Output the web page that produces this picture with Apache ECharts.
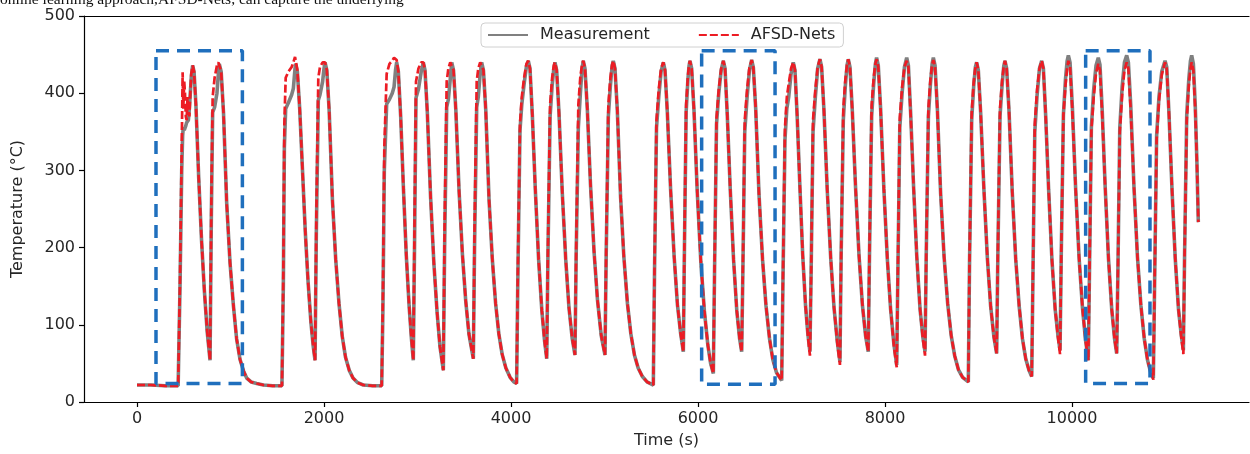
<!DOCTYPE html>
<html>
<head>
<meta charset="utf-8">
<script src="https://cdn.jsdelivr.net/npm/echarts@6/dist/echarts.min.js"></script>
<style>
html,body{margin:0;padding:0;background:#ffffff;}
#chart{width:1250px;height:454px;}
</style>
</head>
<body>
<div id="chart"></div>
<script>
// ---- data ----
const seriesNames = ['Measurement', 'AFSD-Nets'];
const xTicks = [0, 2000, 4000, 6000, 8000, 10000];
const captionText = 'online learning approach,AFSD-Nets, can capture the underlying';

// time stamps (s), shared by both curves
const time = [
  0,150,300,440,
  460,478,488,495,505,513,522,531,540,549,560,570,580,595,
  610,630,660,690,720,750,781,
  795,809,830,855,870,880,
  900,925,959,995,1031,1065,1102,1140,1173,1220,1280,1352,1450,1550,
  1565,1576,1590,1620,1654,1672,1690,1697,
  1715,1740,1770,1800,1830,1860,1885,1904,
  1918,1939,1957,1985,2000,2011,
  2030,2055,2090,2125,2160,2195,2230,2270,2310,2360,2420,2520,2617,
  2630,2645,2670,2700,2730,2749,2765,2777,
  2795,2820,2850,2880,2910,2935,2955,
  2968,2984,3010,3040,3062,
  3080,3105,3140,3175,3210,3240,3276,
  3290,3312,3330,3350,3366,
  3385,3410,3445,3480,3515,3550,3597,
  3610,3633,3650,3670,3686,
  3705,3730,3765,3800,3835,3870,3905,3945,3990,4030,4060,
  4072,4096,4115,4140,4165,4185,
  4203,4228,4260,4295,4330,4360,4382,
  4395,4418,4440,4458,4470,
  4488,4513,4548,4585,4620,4655,4684,
  4697,4720,4742,4760,4773,
  4791,4816,4850,4888,4925,4965,5005,
  5018,5041,5063,5081,5094,
  5112,5137,5172,5207,5245,5282,5320,5360,5405,5455,5522,
  5535,5556,5580,5605,5629,
  5647,5672,5707,5745,5780,5815,5843,
  5855,5873,5892,5904,5914,
  5932,5957,5992,6030,6068,6105,6135,6164,
  6177,6198,6222,6248,6271,
  6289,6313,6345,6380,6415,6445,6467,
  6480,6500,6525,6550,6574,
  6592,6617,6652,6690,6727,6765,6800,6840,6895,
  6908,6930,6950,6970,6995,7019,
  7037,7060,7090,7120,7150,7175,7197,
  7210,7230,7255,7280,7304,
  7322,7347,7382,7420,7455,7490,7518,
  7531,7554,7576,7594,7607,
  7625,7650,7685,7722,7758,7792,7821,
  7834,7857,7879,7897,7910,
  7928,7953,7988,8025,8060,8095,8125,
  8138,8158,8183,8208,8232,
  8250,8274,8306,8340,8375,8405,8428,
  8441,8464,8486,8504,8517,
  8535,8560,8595,8632,8670,8708,8745,8785,8830,8891,
  8904,8927,8949,8967,8980,
  8998,9023,9058,9095,9130,9165,9194,
  9207,9230,9252,9270,9283,
  9301,9326,9361,9398,9435,9470,9505,9540,9569,
  9582,9602,9627,9652,9676,
  9694,9718,9750,9785,9820,9850,9872,
  9885,9908,9930,9948,9961,
  9979,10004,10039,10076,10112,10145,10174,
  10187,10207,10232,10257,10281,
  10299,10323,10355,10390,10425,10455,10478,
  10491,10511,10536,10561,10585,
  10603,10628,10663,10700,10737,10773,10808,10840,10870,
  10883,10905,10930,10960,10995,
  11013,11037,11069,11104,11139,11169,11191,
  11204,11227,11249,11267,11280,
  11298,11318,11336,11351
];

// measured temperature (°C)
const measurement = [
  22,22,21,21,
  150,300,345,356,352,354,358,362,364,365,380,400,420,436,
  428,385,290,210,145,92,54,
  240,375,382,400,425,438,
  428,375,258,180,125,82,55,40,31,26,24,22,21,21,
  150,330,380,388,398,406,432,438,
  428,380,300,220,155,103,72,54,
  220,391,398,415,432,440,
  430,378,262,185,128,85,58,41,31,25,22,21,21,
  120,300,386,392,400,408,430,440,
  428,370,275,190,125,82,54,
  200,394,405,428,440,
  430,375,265,180,115,72,41,
  200,382,392,418,440,
  430,378,272,192,132,88,56,
  200,382,395,425,440,
  430,378,262,185,128,88,62,44,32,26,24,
  150,352,385,412,435,442,
  432,372,275,185,118,78,56,
  190,370,410,432,440,
  430,375,272,185,122,82,61,
  190,355,400,432,442,
  432,380,282,195,132,86,61,
  190,370,410,435,442,
  432,378,265,188,128,88,61,44,33,26,22,
  170,355,395,428,440,
  430,375,275,188,126,88,65,
  200,375,418,435,442,
  432,378,272,182,118,74,50,37,
  170,360,400,430,442,
  432,372,275,185,118,82,65,
  170,350,395,430,443,
  433,380,270,185,125,82,55,38,28,
  150,340,380,395,425,440,
  430,372,278,190,125,88,65,
  170,350,395,432,444,
  434,378,275,185,122,78,52,
  190,365,410,436,444,
  434,378,278,190,126,86,65,
  190,370,412,438,446,
  436,380,276,185,120,75,48,
  170,355,400,434,446,
  436,375,278,188,120,84,65,
  190,370,412,438,446,
  436,380,270,188,128,86,60,42,32,26,
  180,365,410,434,440,
  430,375,275,186,124,84,63,
  190,370,410,435,442,
  432,378,272,185,124,82,56,41,33,
  160,350,398,432,442,
  432,372,275,185,120,86,67,
  190,372,418,442,449,
  440,382,276,186,122,80,54,
  170,355,405,436,446,
  437,378,278,186,120,82,63,
  170,355,408,440,449,
  440,385,278,188,125,82,54,39,31,
  150,345,395,428,442,
  434,374,277,186,120,86,67,
  190,372,418,442,449,
  438,385,310,233
];

// AFSD-Nets prediction (°C)
const afsdNets = [
  22,22,21,21,
  160,330,427,380,415,400,370,365,395,380,370,400,425,436,
  428,385,290,210,145,92,54,
  260,395,420,436,440,440,
  428,375,258,180,125,82,55,40,31,26,24,22,21,21,
  170,360,420,428,434,440,447,446,
  430,380,300,220,155,103,72,54,
  240,420,434,440,442,440,
  430,378,262,185,128,85,58,41,31,25,22,21,21,
  140,330,425,438,442,446,447,443,
  428,370,275,190,125,82,54,
  230,415,432,440,440,
  430,375,265,180,115,72,41,
  230,415,432,440,440,
  430,378,272,192,132,88,56,
  225,415,432,440,440,
  430,378,262,185,128,88,62,44,32,26,24,
  160,360,395,420,438,442,
  432,372,275,185,118,78,56,
  200,385,420,436,440,
  430,375,272,185,122,82,61,
  200,385,422,437,442,
  432,380,282,195,132,86,61,
  200,385,420,437,442,
  432,378,265,188,128,88,61,44,33,26,22,
  175,365,405,432,440,
  430,375,275,188,126,88,65,
  210,385,422,437,442,
  432,378,272,182,118,74,50,37,
  175,368,405,432,442,
  432,372,275,185,118,82,65,
  178,365,405,433,443,
  433,380,270,185,125,82,55,38,28,
  160,355,395,412,432,440,
  430,372,278,190,125,86,60,
  170,365,405,434,444,
  434,378,275,185,122,76,48,
  195,380,418,437,444,
  434,378,278,190,126,86,65,
  200,385,420,438,444,
  434,378,276,185,120,73,45,
  175,368,408,434,442,
  434,373,278,188,120,82,60,
  195,380,418,437,443,
  434,378,270,188,128,86,60,42,32,26,
  185,375,415,434,440,
  430,375,275,186,124,84,63,
  195,380,416,435,442,
  432,378,272,185,124,82,56,41,33,
  165,360,405,432,442,
  432,372,275,185,120,84,62,
  195,372,410,432,442,
  434,376,276,186,122,80,54,
  170,352,395,426,438,
  430,372,278,186,120,82,63,
  170,350,398,430,440,
  432,378,278,188,125,82,54,39,29,
  150,340,390,424,440,
  432,374,277,186,120,84,62,
  190,365,410,432,440,
  430,378,310,233
];

// dashed highlight boxes (time range and temperature range)
const boxStart = [203, 6039, 10146];
const boxEnd   = [1127, 6824, 10834];
const boxLow   = [24, 23, 24];
const boxHigh  = [455, 455, 455];

// ---- chart ----
const chart = echarts.init(document.getElementById('chart'), null, {renderer: 'canvas'});
const FONT = 'DejaVu Sans';
const TXT = '#262626';

const measData = time.map((t, i) => [t, measurement[i]]);
const predData = time.map((t, i) => [t, afsdNets[i]]);

const boxSeries = boxStart.map((x0, i) => ({
  type: 'line',
  name: 'box' + i,
  symbol: 'none',
  silent: true,
  z: 5,
  lineStyle: {color: '#1f6fbd', width: 3.5, type: [13, 8]},
  data: [[x0, boxHigh[i]], [boxEnd[i], boxHigh[i]], [boxEnd[i], boxLow[i]], [x0, boxLow[i]], [x0, boxHigh[i]]]
}));

const plainNumber = v => String(v);

const option = {
  animation: false,
  backgroundColor: '#ffffff',
  graphic: [{
    type: 'text', left: 0, top: -8, silent: true,
    style: {text: captionText, font: '15.5px "Liberation Serif"', fill: '#111'}
  }],
  grid: {left: 84, right: 1, top: 16, bottom: 52},
  legend: {
    data: seriesNames,
    left: 481, top: 23,
    itemWidth: 40, itemHeight: 14, itemGap: 48,
    padding: [4, 8, 4, 6],
    borderColor: '#d0d0d0', borderWidth: 1, borderRadius: 4,
    backgroundColor: 'rgba(255,255,255,0.85)',
    itemStyle: {opacity: 0},
    textStyle: {fontSize: 16, color: TXT, fontFamily: FONT, padding: [0, 0, 0, 7]}
  },
  xAxis: [{
    type: 'value', min: -567, max: 11893,
    name: 'Time (s)', nameLocation: 'middle', nameGap: 31,
    nameTextStyle: {fontSize: 16, color: TXT, fontFamily: FONT},
    axisLine: {show: true, onZero: false, lineStyle: {color: '#000', width: 1.2}},
    axisTick: {show: true, customValues: xTicks, length: 5, lineStyle: {color: '#000', width: 1.2}},
    axisLabel: {customValues: xTicks, formatter: plainNumber, margin: 9, fontSize: 16, color: TXT, fontFamily: FONT},
    splitLine: {show: false}
  }, {
    type: 'value', position: 'top', min: -567, max: 11893,
    axisLine: {show: true, onZero: false, lineStyle: {color: '#000', width: 1.2}},
    axisTick: {show: false}, axisLabel: {show: false}, splitLine: {show: false}
  }],
  yAxis: {
    type: 'value', min: 0, max: 500, interval: 100,
    name: 'Temperature (°C)', nameLocation: 'middle', nameGap: 58, nameRotate: 90,
    nameTextStyle: {fontSize: 16, color: TXT, fontFamily: FONT},
    axisLine: {show: true, onZero: false, lineStyle: {color: '#000', width: 1.2}},
    axisTick: {show: true, length: 5, lineStyle: {color: '#000', width: 1.2}},
    axisLabel: {formatter: plainNumber, margin: 9, fontSize: 16, color: TXT, fontFamily: FONT},
    splitLine: {show: false}
  },
  series: [{
    name: seriesNames[0], type: 'line', data: measData, symbol: 'none', z: 2,
    lineStyle: {color: '#808080', width: 3.6}, itemStyle: {color: '#808080'}
  }, {
    name: seriesNames[1], type: 'line', data: predData, symbol: 'none', z: 3,
    lineStyle: {color: '#ec1c24', width: 2.7, type: [8, 3]}, itemStyle: {color: '#ec1c24'}
  }].concat(boxSeries)
};
chart.setOption(option);
</script>
</body>
</html>
